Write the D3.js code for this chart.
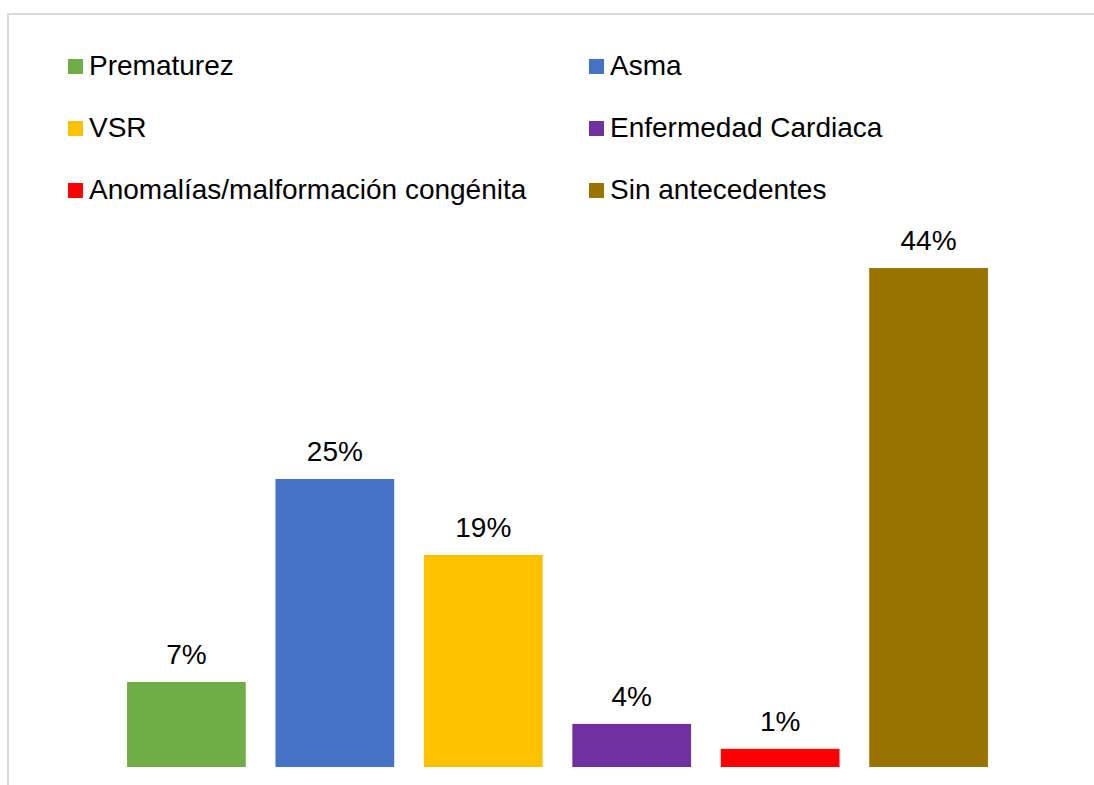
<html>
<head>
<meta charset="utf-8">
<script src="https://d3js.org/d3.v7.min.js"></script>
<style>
body {margin: 0; background: #fff;}
text {font-family: "Liberation Sans", Arial, sans-serif; fill: #000;}
</style>
</head>
<body>
<svg id="chart" width="1094" height="785"></svg>
<script>
// data
var categories = ["Prematurez", "Asma", "VSR", "Enfermedad Cardiaca", "Anomalías/malformación congénita", "Sin antecedentes"];
var values = [7.5, 25.4, 18.7, 3.8, 1.6, 44.0];
var labels = ["7%", "25%", "19%", "4%", "1%", "44%"];
var colors = ["#70AD47", "#4472C4", "#FFC000", "#7030A0", "#FF0000", "#997300"];

var svg = d3.select("#chart");

//chart border
svg.append("rect")
    .attr("x", 8).attr("y", 14)
    .attr("width", 1100).attr("height", 800)
    .style("fill", "none")
    .style("stroke", "#d9d9d9")
    .style("stroke-width", 2);

//scales
var xscale = d3.scaleBand().domain(categories).range([112.2, 1002.8]).paddingInner(0.2).paddingOuter(0.1);
var yscale = d3.scaleLinear().domain([0, 50]).range([767, 200]);
var colorscale = d3.scaleOrdinal().domain(categories).range(colors);

//bars
svg.append("g").selectAll("rect")
    .data(categories)
    .enter()
    .append("rect")
        .attr("x", function(d) {return xscale(d);})
        .attr("y", function(d, i) {return yscale(values[i]);})
        .attr("width", xscale.bandwidth())
        .attr("height", function(d, i) {return yscale(0) - yscale(values[i]);})
        .style("fill", function(d) {return colorscale(d);});

//value labels
svg.append("g").selectAll("text")
    .data(categories)
    .enter()
    .append("text")
        .attr("x", function(d) {return xscale(d) + xscale.bandwidth() / 2;})
        .attr("y", function(d, i) {return yscale(values[i]) - 18;})
        .attr("text-anchor", "middle")
        .style("font-size", "28px")
        .text(function(d, i) {return labels[i];});

//legend, two columns
var legend_x = [68, 589];
var legend_y = [75, 137, 199];
var size = 15;
var legend = svg.append("g").selectAll("g")
    .data(categories)
    .enter()
    .append("g")
        .attr("transform", function(d, i) {
            return "translate(" + legend_x[i % 2] + "," + legend_y[Math.floor(i / 2)] + ")";
        });
legend.append("rect")
    .attr("x", 0).attr("y", -16)
    .attr("width", size).attr("height", size)
    .style("fill", function(d) {return colorscale(d);});
legend.append("text")
    .attr("x", size + 6).attr("y", 0)
    .style("font-size", "28px")
    .text(function(d) {return d;});
</script>
</body>
</html>
